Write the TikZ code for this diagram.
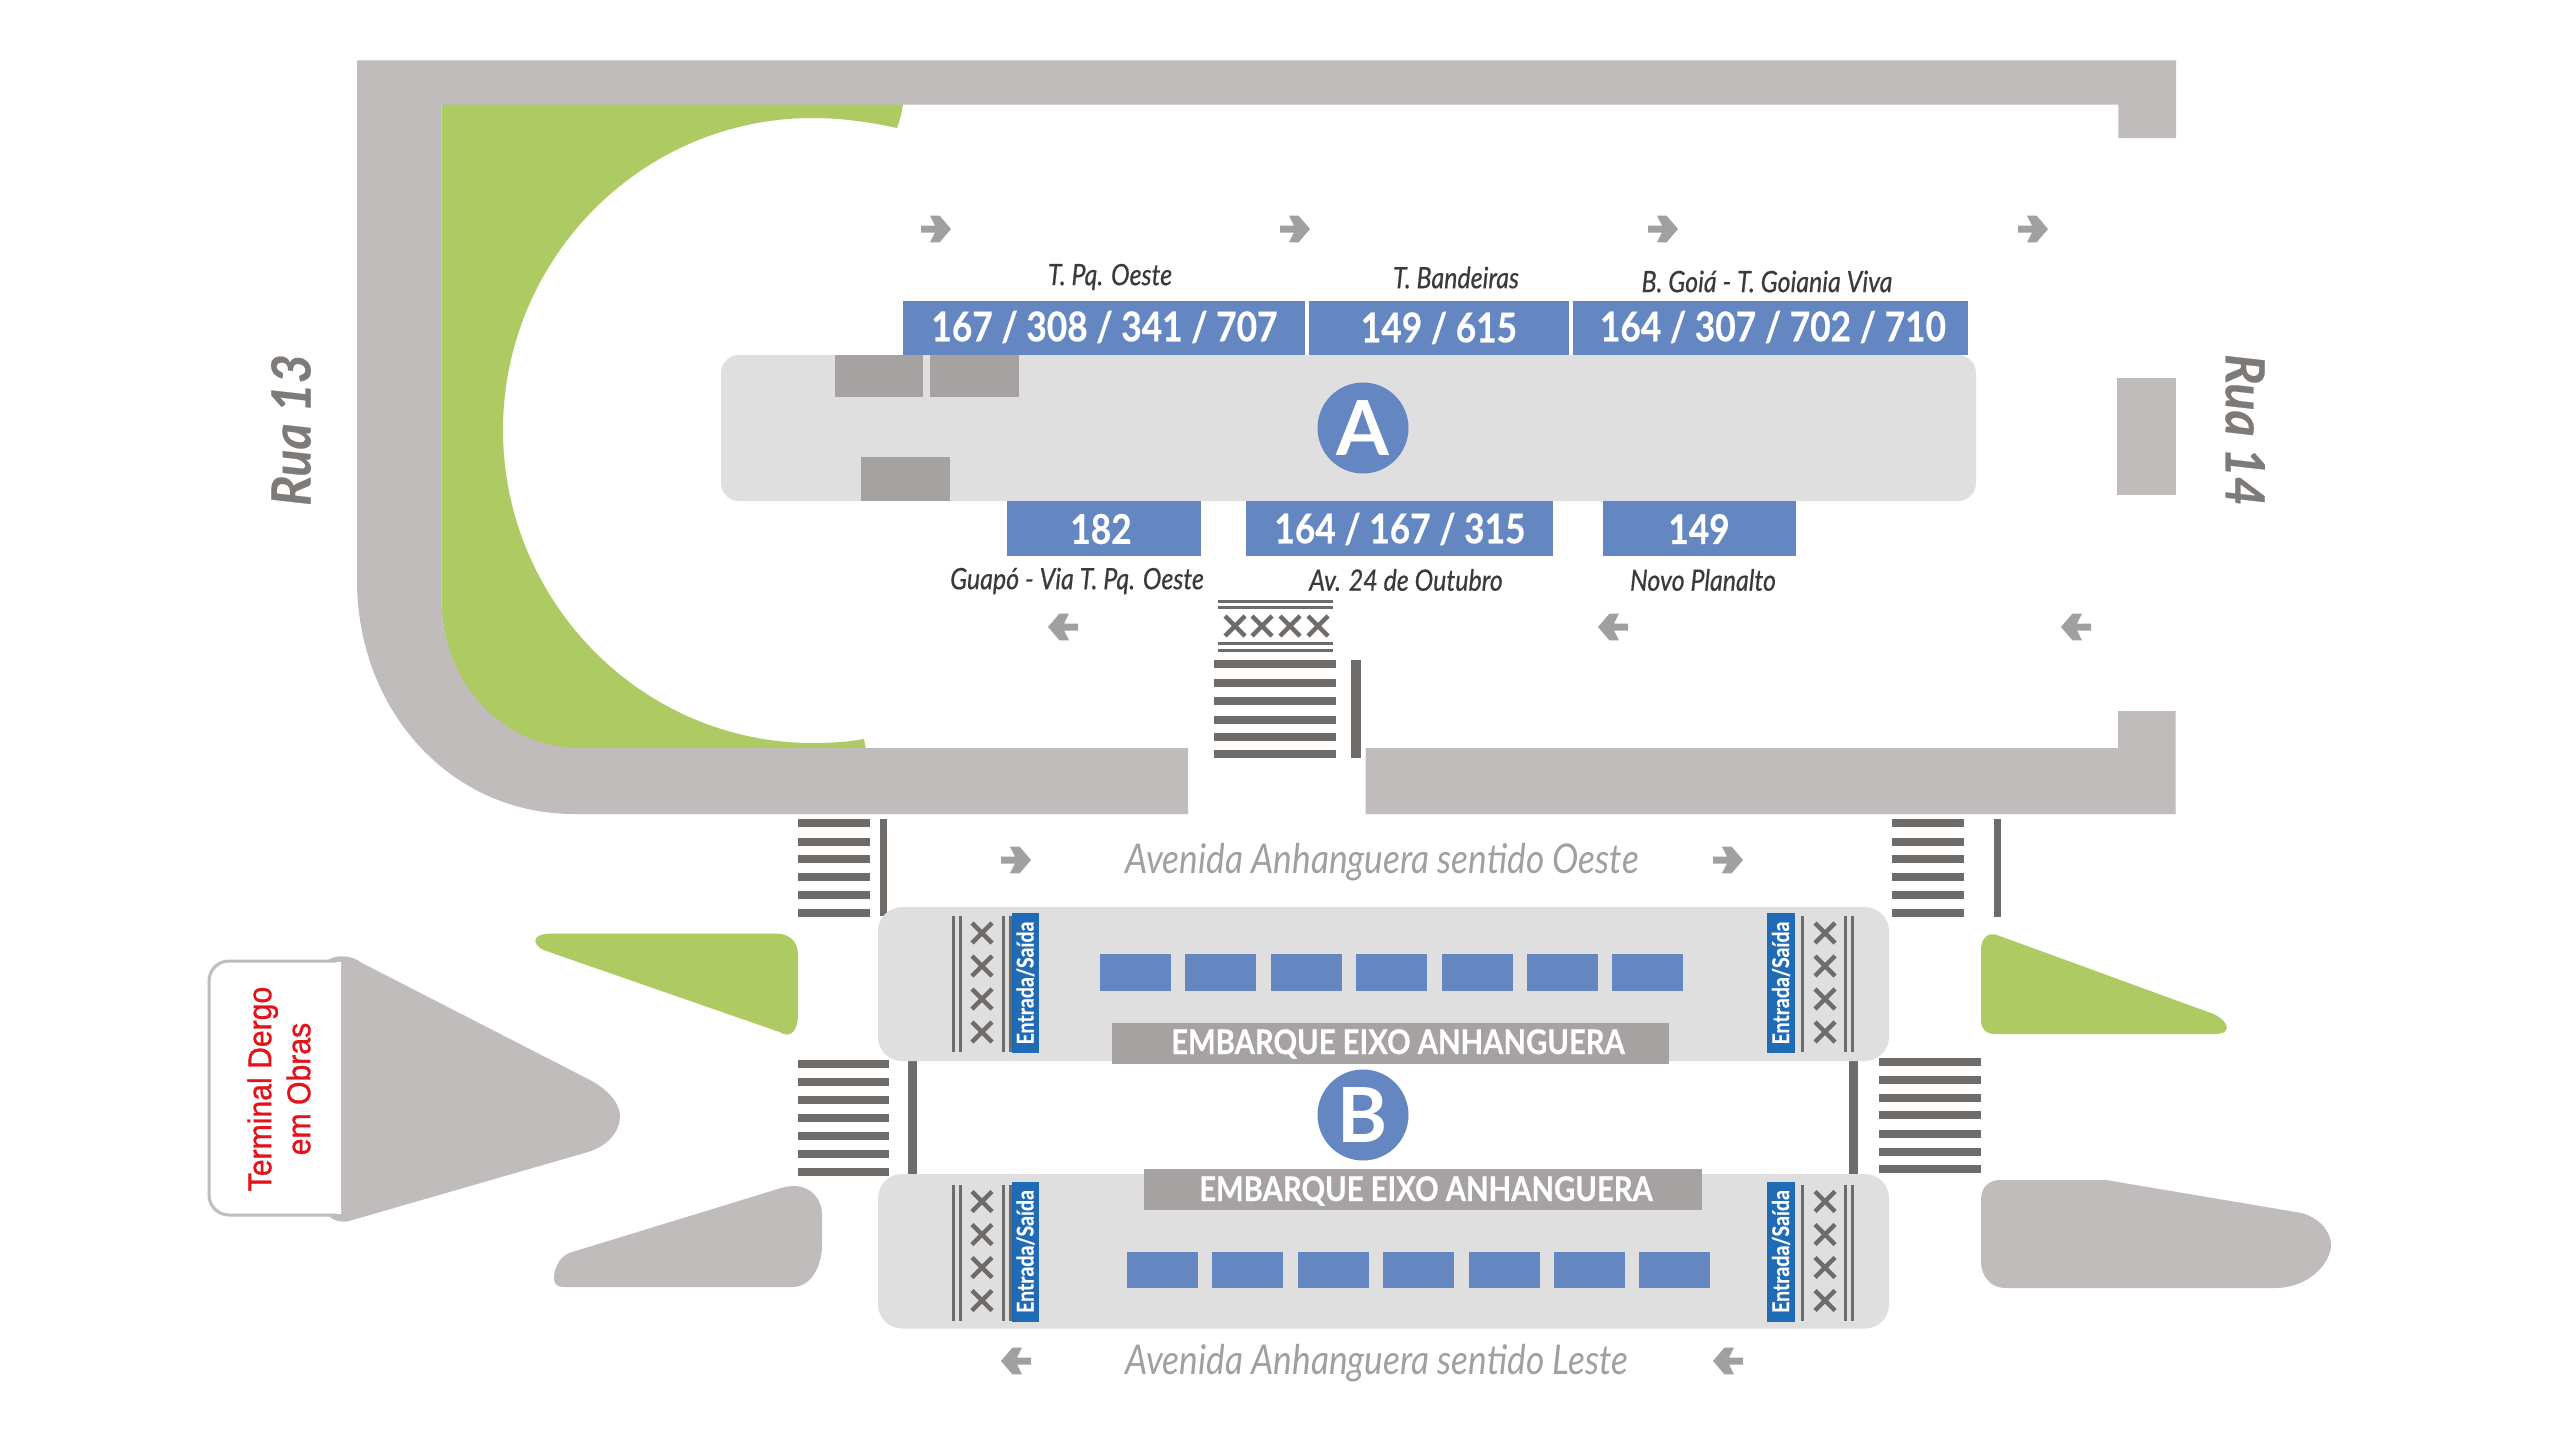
\documentclass[tikz,border=0pt]{standalone}
\usepackage{fontspec}
\setmainfont{Lato}
\newfontfamily\arialf[FakeBold=1,FakeStretch=0.92]{Liberation Sans}
\newfontfamily\condf[FakeStretch=0.86]{Lato}
\newfontfamily\condb[FakeStretch=0.86,FakeBold=0.5]{Lato}
\newfontfamily\labf[FakeStretch=0.85,FakeBold=0.5]{Lato}
\newfontfamily\wideb[FakeStretch=0.93,FakeBold=0.4]{Lato}
\newfontfamily\entf[FakeStretch=0.85,FakeBold=0.3]{Lato}
\definecolor{roadg}{HTML}{C0BCBB}
\definecolor{greenp}{HTML}{AECB63}
\definecolor{platf}{HTML}{DFDFDF}
\definecolor{blueb}{HTML}{6487C2}
\definecolor{blued}{HTML}{1F6BB5}
\definecolor{boxg}{HTML}{A5A2A1}
\definecolor{stripe}{HTML}{6F6B68}
\definecolor{arrowg}{HTML}{A0A0A0}
\definecolor{labelk}{HTML}{3A3A3A}
\definecolor{redt}{HTML}{E3131B}
\tikzset{
  x=0.5pt,y=-0.5pt,
  road/.style={fill=roadg,draw=none},
  grass/.style={fill=greenp,draw=none},
  platform/.style={fill=platf,draw=none,rounded corners=9pt},
  platformb/.style={fill=platf,draw=none,rounded corners=12pt},
  graybox/.style={fill=boxg,draw=none},
  bluebar/.style={fill=blueb,draw=none},
  stripebar/.style={fill=stripe,draw=none},
  thinline/.style={draw=stripe,line width=1.5pt},
  busnum/.style={text=white,font=\condb\bfseries\fontsize{20.5}{20.5}\selectfont,inner sep=0pt},
  dest/.style={text=labelk,font=\labf\itshape\fontsize{14.7}{14.7}\selectfont,inner sep=0pt},
  avenue/.style={text=arrowg,font=\condf\itshape\fontsize{20.5}{20.5}\selectfont,inner sep=0pt,anchor=west},
  rua/.style={text=stripe!90,font=\wideb\bfseries\itshape\fontsize{27}{27}\selectfont,inner sep=0pt},
  embark/.style={text=white,font=\condb\bfseries\fontsize{17}{17}\selectfont,inner sep=0pt},
  entrada/.style={text=white,font=\entf\bfseries\fontsize{11.5}{11.5}\selectfont,inner sep=0pt,rotate=90},
  letter/.style={circle,fill=blueb,text=white,font=\bfseries\fontsize{38}{38}\selectfont,inner sep=0pt,minimum size=45.5pt},
  chev/.pic={
    \fill[arrowg] (-15,-3.5) -- (-1,-3.5) -- (-6,-13.3) -- (3.6,-13.3) -- (15,0) -- (3.6,13.3) -- (-6,13.3) -- (-1,3.5) -- (-15,3.5) -- cycle;
  },
  xmark/.pic={
    \draw[stripe,line width=2.2pt] (-10,-10)--(10,10) (-10,10)--(10,-10);
  }
}
\newcommand{\stripeset}[4]{% x1,x2,thick(half),list
  \foreach \yy in {#4} {\fill[stripe] (#1,\yy-#3) rectangle (#2,\yy+#3);}
}
\newcommand{\entryset}[2]{% yoffset, name suffix
  \begin{scope}[yshift=-#1*0.5pt]
    % left
    \draw[thinline] (953,916)--(953,1052) (960,916)--(960,1052) (1003,916)--(1003,1052) (1010,916)--(1010,1052);
    \foreach \yy in {933,966,999,1032} {\pic at (982,\yy) {xmark};}
    \fill[blued] (1012,913) rectangle (1039,1053);
    \node[entrada] (entL#2) at (1025.5,983) {Entrada/Saída};
    % right
    \draw[thinline] (1802,916)--(1802,1052) (1845,916)--(1845,1052) (1852,916)--(1852,1052);
    \foreach \yy in {933,966,999,1032} {\pic at (1825,\yy) {xmark};}
    \fill[blued] (1767,913) rectangle (1795,1053);
    \node[entrada] (entR#2) at (1781,983) {Entrada/Saída};
  \end{scope}
}
\begin{document}
\begin{tikzpicture}
\useasboundingbox (0,0) rectangle (2560,1440);
\fill[white] (0,0) rectangle (2560,1440);
% green behind the road
\fill[grass] (441.6,104) -- (903,104) .. controls (902,112) and (900,120) .. (897,128)
  .. controls (870,122) and (840,118) .. (813,118)
  .. controls (640,118) and (503,260) .. (503,430)
  .. controls (503,600) and (640,743) .. (813,743)
  .. controls (830,743) and (848,742) .. (864,739) -- (866,750) -- (580,750)
  .. controls (500,750) and (441.6,680) .. (441.6,601) -- cycle;
% road
\fill[road] (357,60.3) -- (2176,60.3) -- (2176,138) -- (2118.3,138) -- (2118.3,104.5) -- (441.6,104.5) -- (441.6,601)
  .. controls (441.6,680) and (500,748) .. (580,748) -- (1188,748) -- (1188,814) -- (574,814)
  .. controls (450,814) and (357,710) .. (357,580) -- cycle;
\fill[road] (1365.5,748) -- (2118,748) -- (2118,711) -- (2175.5,711) -- (2175.5,814) -- (1365.5,814) -- cycle;
\fill[road] (2117,378) rectangle (2175.5,495);
% platform A
\fill[platform] (721,355) rectangle (1976,501);
\fill[graybox] (835,355) rectangle (923,397);
\fill[graybox] (930,355) rectangle (1019,397);
\fill[graybox] (861,457) rectangle (950,501);
% bus bars
\fill[bluebar] (903,301) rectangle (1305,355);
\fill[bluebar] (1309,301) rectangle (1569,355);
\fill[bluebar] (1573,301) rectangle (1968,355);
\fill[bluebar] (1007,501) rectangle (1200.5,555.5);
\fill[bluebar] (1246,501) rectangle (1553,555.5);
\fill[bluebar] (1603,501) rectangle (1796,555.5);
\node[busnum] (n1) at (1104.5,327) {167 / 308 / 341 / 707};
\node[busnum] (n2) at (1439,328) {149 / 615};
\node[busnum] (n3) at (1773,327) {164 / 307 / 702 / 710};
\node[busnum] (n4) at (1101,529) {182};
\node[busnum] (n5) at (1400,529) {164 / 167 / 315};
\node[busnum] (n6) at (1699,529) {149};
\node[dest] (d1) at (1110,277) {T. Pq. Oeste};
\node[dest] (d2) at (1456,277.5) {T. Bandeiras};
\node[dest] (d3) at (1767,281.5) {B. Goiá - T. Goiania Viva};
\node[dest] (d4) at (1077,581) {Guapó - Via T. Pq. Oeste};
\node[dest] (d5) at (1406,580) {Av. 24 de Outubro};
\node[dest] (d6) at (1703,580) {Novo Planalto};
\node[letter] (A) at (1363,428) {A};
% arrows
\foreach \xx in {936,1295,1663,2033} {\pic at (\xx,229) {chev};}
\foreach \xx in {1063,1613,2076} {\pic[xscale=-1] at (\xx,627) {chev};}
\foreach \xx in {1016,1728} {\pic at (\xx,860) {chev};}
\foreach \xx in {1016,1728} {\pic[xscale=-1] at (\xx,1361) {chev};}
% crossing A
\draw[stripe,line width=1.5pt] (1218,601)--(1333,601) (1218,607)--(1333,607) (1218,643)--(1333,643) (1218,650)--(1333,650);
\foreach \xx in {1235,1262,1290,1318} {\pic at (\xx,626) {xmark};}
\stripeset{1214}{1336}{4}{664,683,701,720,737,754}
\fill[stripebar] (1351,660) rectangle (1361,758);
% avenue crossings
\stripeset{798}{869.5}{3.8}{823,842,859,877,895,913}
\fill[stripebar] (880,819) rectangle (887,916);
\stripeset{798}{889}{3.8}{1064,1082,1100,1118,1136,1154,1172}
\fill[stripebar] (908,1061) rectangle (917,1175);
\stripeset{1892}{1964}{3.8}{823,842,859,877,895,913}
\fill[stripebar] (1994,819) rectangle (2001,917);
\stripeset{1879}{1981}{3.8}{1062,1080,1098,1115,1134,1152,1169}
\fill[stripebar] (1849,1061) rectangle (1858,1175);
% platforms B
\fill[platformb] (878,907) rectangle (1889,1061);
\fill[platformb] (878,1174) rectangle (1889,1328.5);
\foreach \xx in {0,...,6} {
  \fill[bluebar] (1100+85.4*\xx,954) rectangle (1171+85.4*\xx,990.5);
  \fill[bluebar] (1127+85.4*\xx,1251.5) rectangle (1198+85.4*\xx,1288);
}
\fill[graybox] (1112,1023) rectangle (1669,1064);
\fill[graybox] (1144,1169) rectangle (1702,1209.5);
\node[embark] (e1) at (1398,1044) {EMBARQUE EIXO ANHANGUERA};
\node[embark] (e2) at (1426,1191) {EMBARQUE EIXO ANHANGUERA};
\entryset{0}{a}
\entryset{268.5}{b}
\node[letter] (B) at (1363,1115) {B};
% avenue names
\node[avenue] (av1) at (1125,862) {Avenida Anhanguera sentido Oeste};
\node[avenue] (av2) at (1125,1363) {Avenida Anhanguera sentido Leste};
% street names
\node[rua,rotate=90] (r13) at (291,430) {Rua 13};
\node[rua,rotate=-90] (r14) at (2245,430) {Rua 14};
% islands
\fill[grass] (550,933.6) -- (776,933.6) .. controls (790,933.6) and (798,942) .. (798,955) -- (798,1015)
  .. controls (798,1028) and (792,1040) .. (779.5,1032) -- (543.5,950)
  .. controls (530,943) and (534,933.6) .. (550,933.6) -- cycle;
\fill[grass] (1981,950) .. controls (1981,938) and (1988,932) .. (1997,935) -- (2213.5,1014)
  .. controls (2230,1022) and (2232,1034) .. (2215,1034) -- (1995,1034)
  .. controls (1985,1034) and (1981,1028) .. (1981,1020) -- cycle;
\fill[road] (779.5,1188.5) -- (569,1253) .. controls (558,1258) and (554,1270) .. (554,1278)
  .. controls (554,1285) and (558,1287) .. (565,1287) -- (792,1287)
  .. controls (812,1287) and (822,1265) .. (822,1245) -- (822,1215)
  .. controls (822,1195) and (805,1180) .. (779.5,1188.5) -- cycle;
\fill[road] (1981,1200) .. controls (1981,1186) and (1990,1180) .. (2000,1180) -- (2106,1180) -- (2301.5,1213)
  .. controls (2320,1218) and (2331,1232) .. (2331,1245)
  .. controls (2331,1262) and (2310,1288) .. (2275,1288) -- (2005,1288)
  .. controls (1990,1288) and (1981,1275) .. (1981,1262) -- cycle;
% terminal
\fill[road] (328,960) .. controls (335,955) and (350,954) .. (362,963) -- (588,1079)
  .. controls (610,1090) and (620,1105) .. (620,1116)
  .. controls (620,1130) and (610,1145) .. (588,1152) -- (349,1221)
  .. controls (340,1223) and (332,1220) .. (328,1215) -- cycle;
\draw[roadg,line width=1.5pt,fill=white,rounded corners=10pt] (341,961) -- (209,961) -- (209,1215) -- (341,1215);
\fill[white] (336,962) rectangle (341,1214);
\node[text=redt,font=\arialf\fontsize{16.4}{19.5}\selectfont,rotate=90,align=center,inner sep=0pt] (term) at (279,1089) {Terminal Dergo\\em Obras};
\end{tikzpicture}
\end{document}
